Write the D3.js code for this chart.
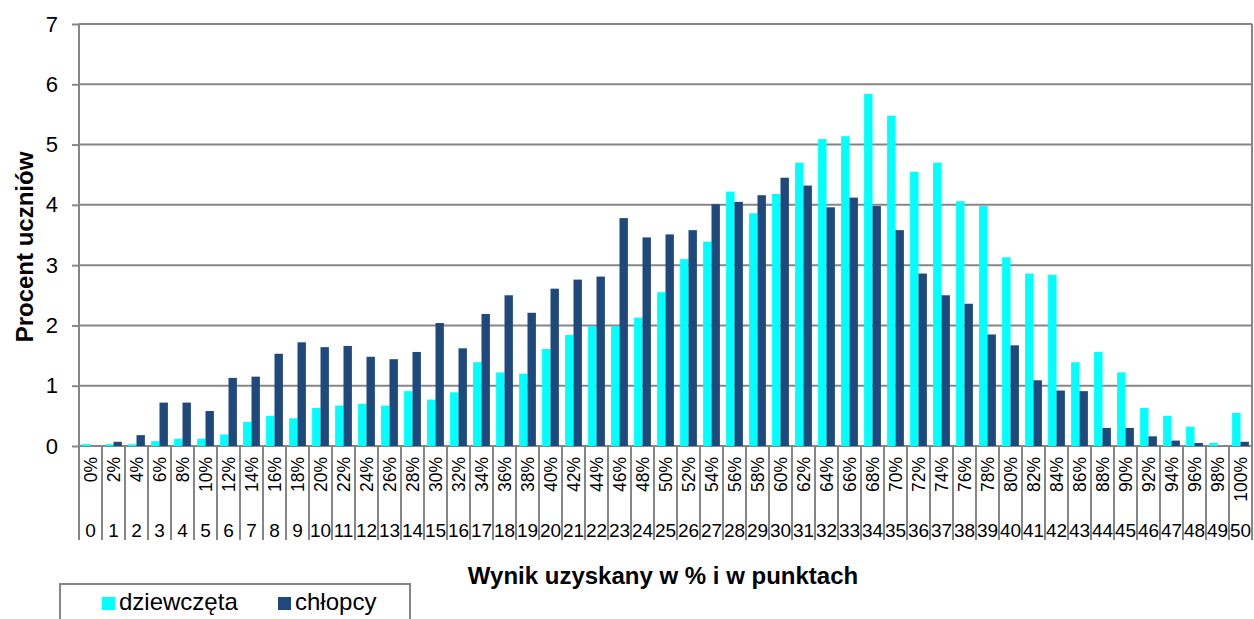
<!DOCTYPE html>
<html>
<head>
<meta charset="utf-8">
<script src="https://cdn.jsdelivr.net/npm/d3@7"></script>
<style>
  body { margin: 0; background: #fff; }
  text { font-family: Arial, "Liberation Sans", sans-serif; fill: #000; }
</style>
</head>
<body>
<div id="chart"></div>
<script>
// wyniki - procent uczniów dla każdego wyniku punktowego
const points = d3.range(0, 51);
const percentLabels = points.map(d => (d * 2) + "%");
const seriesNames = ["dziewczęta", "chłopcy"];
const girls = [0.03, 0.03, 0.03, 0.08, 0.12, 0.12, 0.19, 0.40, 0.50, 0.46,
               0.63, 0.67, 0.70, 0.67, 0.91, 0.77, 0.89, 1.39, 1.22, 1.20,
               1.61, 1.84, 1.99, 1.99, 2.13, 2.55, 3.10, 3.39, 4.22, 3.86,
               4.18, 4.70, 5.09, 5.14, 5.84, 5.48, 4.55, 4.70, 4.06, 3.98,
               3.13, 2.86, 2.84, 1.39, 1.56, 1.22, 0.63, 0.50, 0.32, 0.05,
               0.55];
const boys = [0.00, 0.07, 0.18, 0.72, 0.72, 0.58, 1.13, 1.15, 1.53, 1.72,
              1.64, 1.66, 1.48, 1.44, 1.56, 2.04, 1.62, 2.19, 2.50, 2.21,
              2.61, 2.76, 2.81, 3.78, 3.46, 3.51, 3.58, 4.01, 4.05, 4.16,
              4.45, 4.32, 3.96, 4.12, 3.98, 3.58, 2.86, 2.50, 2.36, 1.85,
              1.67, 1.09, 0.92, 0.91, 0.30, 0.30, 0.16, 0.09, 0.05, 0.00,
              0.07];
const yTicks = [0, 1, 2, 3, 4, 5, 6, 7];

const width = 1254, height = 619;
const margin = {top: 24, right: 2, bottom: 173, left: 79};
const colors = {"dziewczęta": "#00FFFF", "chłopcy": "#1F497D"};
const gridColor = "#868686";

const svg = d3.select("#chart").append("svg")
    .attr("width", width)
    .attr("height", height);

const x = d3.scaleBand()
    .domain(points)
    .range([margin.left, width - margin.right])
    .padding(0);

const xSub = d3.scaleBand()
    .domain(seriesNames)
    .range([0, x.bandwidth()])
    .paddingInner(0)
    .paddingOuter(0.37);

const y = d3.scaleLinear()
    .domain([0, 7])
    .range([height - margin.bottom, margin.top]);

const y0 = y(0);

// gridlines + y axis
const yAxis = svg.append("g")
    .attr("transform", `translate(${margin.left},0)`)
    .call(d3.axisLeft(y).tickValues(yTicks).tickFormat(d3.format("d"))
        .tickSize(7).tickPadding(14).tickSizeOuter(0));
yAxis.select(".domain").remove();
yAxis.selectAll(".tick line").attr("stroke", gridColor).attr("stroke-width", 2);
yAxis.selectAll(".tick text").style("font-size", "22px").attr("fill", "#000");

svg.append("g")
    .selectAll("line")
    .data(yTicks)
    .join("line")
    .attr("x1", margin.left)
    .attr("x2", width - margin.right)
    .attr("y1", d => y(d))
    .attr("y2", d => y(d))
    .attr("stroke", gridColor)
    .attr("stroke-width", 2);

// right border of the plot
svg.append("line")
    .attr("x1", width - margin.right).attr("x2", width - margin.right)
    .attr("y1", y(7)).attr("y2", y0)
    .attr("stroke", gridColor).attr("stroke-width", 2);

// bars
const rows = points.map((p, i) => ({p: p, values: [
    {name: "dziewczęta", v: girls[i]},
    {name: "chłopcy", v: boys[i]}
]}));

svg.append("g")
    .selectAll("g")
    .data(rows)
    .join("g")
    .attr("transform", d => `translate(${x(d.p)},0)`)
    .selectAll("rect")
    .data(d => d.values.filter(e => e.v > 0))
    .join("rect")
    .attr("x", d => xSub(d.name))
    .attr("width", xSub.bandwidth())
    .attr("y", d => y(d.v))
    .attr("height", d => y0 - y(d.v))
    .attr("fill", d => colors[d.name]);

// y axis line (left)
svg.append("line")
    .attr("x1", margin.left).attr("x2", margin.left)
    .attr("y1", y(7)).attr("y2", y0)
    .attr("stroke", gridColor).attr("stroke-width", 2);

// category separators (two-level axis)
const seps = d3.range(0, points.length + 1).map(i => margin.left + i * x.step());
svg.append("g")
    .selectAll("line")
    .data(seps)
    .join("line")
    .attr("x1", d => d).attr("x2", d => d)
    .attr("y1", y0)
    .attr("y2", y0 + 94)
    .attr("stroke", gridColor)
    .attr("stroke-width", 2);

// percent labels (rotated)
svg.append("g")
    .selectAll("text")
    .data(points)
    .join("text")
    .attr("transform", d => `translate(${x(d) + x.bandwidth() / 2 + 6},${y0 + 11}) rotate(-90)`)
    .attr("text-anchor", "end")
    .style("font-size", "17.5px")
    .text((d, i) => percentLabels[i]);

// point labels
svg.append("g")
    .selectAll("text")
    .data(points)
    .join("text")
    .attr("x", d => x(d) + x.bandwidth() / 2)
    .attr("y", y0 + 91)
    .attr("text-anchor", "middle")
    .style("font-size", "19px")
    .text(d => d);

// axis titles
svg.append("text")
    .attr("x", 663)
    .attr("y", 584)
    .attr("text-anchor", "middle")
    .style("font-size", "24px")
    .style("font-weight", "bold")
    .text("Wynik uzyskany w % i w punktach");

svg.append("text")
    .attr("transform", `translate(33,247) rotate(-90)`)
    .attr("text-anchor", "middle")
    .style("font-size", "24px")
    .style("font-weight", "bold")
    .text("Procent uczniów");

// legend
const legend = svg.append("g");
legend.append("rect")
    .attr("x", 60).attr("y", 584)
    .attr("width", 350).attr("height", 60)
    .attr("fill", "none")
    .attr("stroke", gridColor)
    .attr("stroke-width", 2);

const legendX = [102, 278];
const items = legend.selectAll("g")
    .data(seriesNames)
    .join("g")
    .attr("transform", (d, i) => `translate(${legendX[i]},597)`);
items.append("rect")
    .attr("width", 13).attr("height", 13)
    .attr("fill", d => colors[d]);
items.append("text")
    .attr("x", 17).attr("y", 13)
    .style("font-size", "24px")
    .text(d => d);
</script>
</body>
</html>
